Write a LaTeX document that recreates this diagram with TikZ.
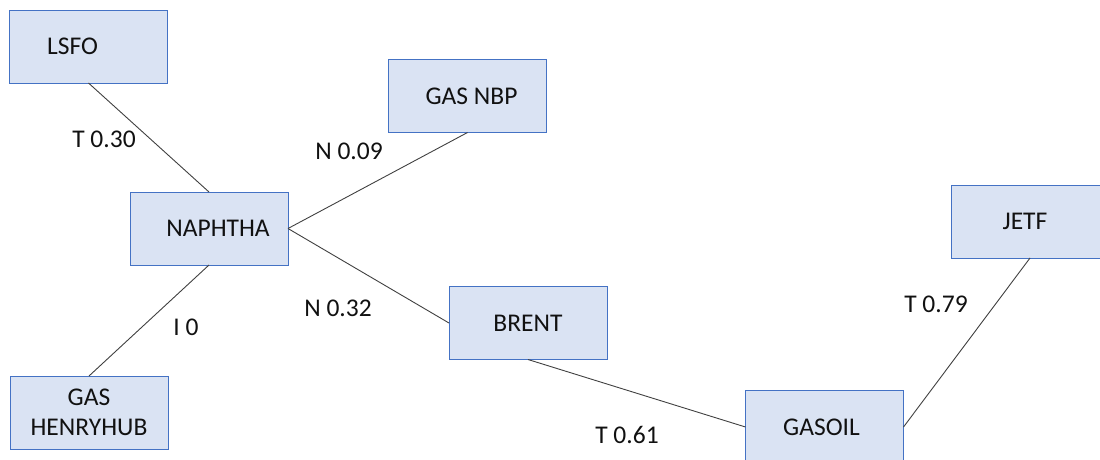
\documentclass[tikz,border=0pt]{standalone}
\usepackage{fontspec}
\setmainfont{Carlito}
\definecolor{boxfill}{HTML}{DAE3F3}
\definecolor{boxline}{HTML}{4472C4}
\definecolor{linkgray}{HTML}{404040}
\definecolor{inkcol}{HTML}{111111}
\begin{document}
\begin{tikzpicture}[x=1pt,y=-1pt,
  font=\fontsize{25.5}{30}\selectfont,
  every label/.style={text=inkcol,inner sep=0pt,align=center},
  asset/.style={draw=boxline,fill=boxfill,line width=1pt,minimum width=158pt,
    minimum height=73pt,inner sep=0pt,outer sep=0pt},
  link/.style={draw=linkgray,line width=0.9pt},
  weight/.style={text=inkcol,inner sep=0pt}]
\useasboundingbox (0,0) rectangle (1100,459);
\clip (0,0) rectangle (1100,459);

% commodity boxes
\node[asset,label={[xshift=-16pt]center:LSFO}]      (lsfo)    at (88.5,46.5) {};
\node[asset,label={[xshift=9pt]center:NAPHTHA}]     (naphtha) at (209,228.5) {};
\node[asset,label={center:GAS\\HENRYHUB}]           (henry)   at (89,412.5) {};
\node[asset,label={[xshift=4pt]center:GAS NBP}]     (nbp)     at (467.5,96) {};
\node[asset,label={center:BRENT}]                   (brent)   at (528,323) {};
\node[asset,label={[xshift=-3pt]center:GASOIL}]     (gasoil)  at (824.5,427) {};
\node[asset,label={[xshift=-5pt]center:JETF}]       (jetf)    at (1030,221.5) {};

% links between commodities
\draw[link] (lsfo.south)    -- (naphtha.north);
\draw[link] (naphtha.south) -- (henry.north);
\draw[link] (naphtha.east)  -- (nbp.south);
\draw[link] (naphtha.east)  -- (brent.west);
\draw[link] (brent.south)   -- (gasoil.west);
\draw[link] (gasoil.east)   -- (jetf.south);

% link weights
\node[weight] (w1) at (104,139) {T 0.30};
\node[weight] (w2) at (186,327) {I 0};
\node[weight] (w3) at (349,151) {N 0.09};
\node[weight] (w4) at (338,308) {N 0.32};
\node[weight] (w5) at (627,435) {T 0.61};
\node[weight] (w6) at (936,304) {T 0.79};
\end{tikzpicture}
\end{document}
